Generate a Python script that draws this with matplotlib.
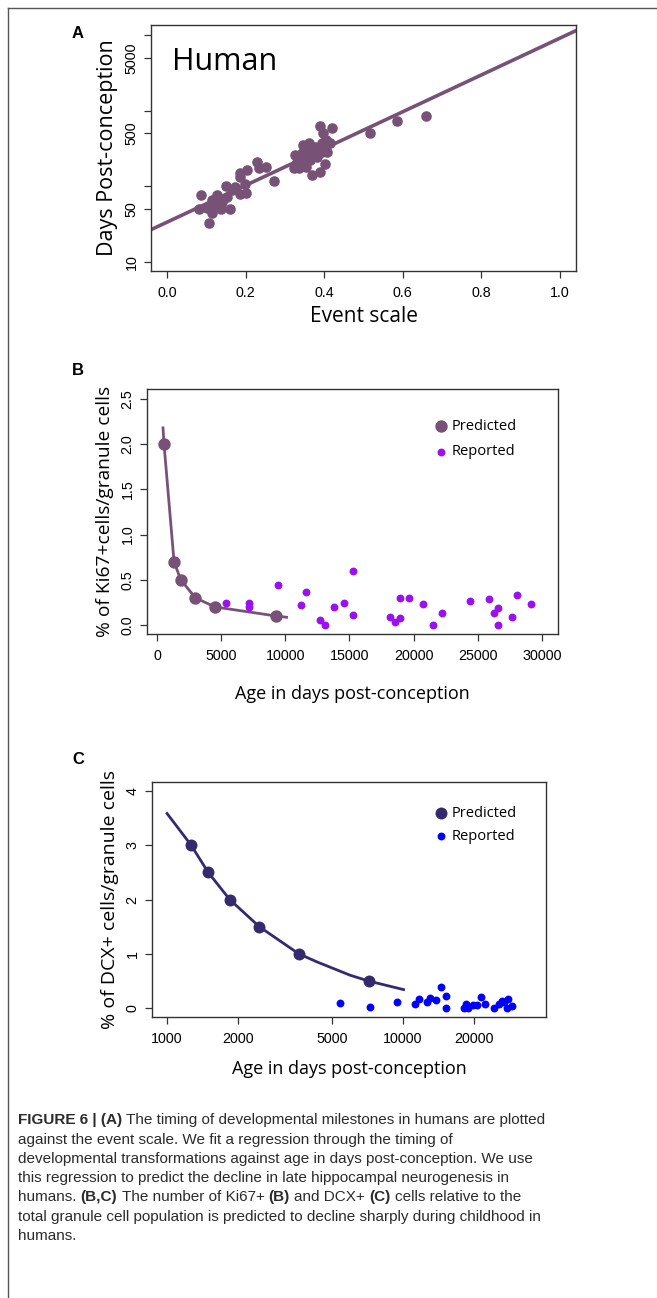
import matplotlib
matplotlib.use("Agg")
import matplotlib.pyplot as plt
from matplotlib.ticker import FixedLocator, NullLocator

# ---- panel A: developmental events vs event scale ----
event_scale = [0.081, 0.086, 0.106, 0.102, 0.114, 0.127, 0.136, 0.140, 0.150, 0.161,
               0.153, 0.165, 0.174, 0.186, 0.185, 0.186, 0.203, 0.199, 0.202, 0.229,
               0.234, 0.251, 0.271, 0.114, 0.120,
               0.326, 0.331, 0.335, 0.339, 0.346, 0.354, 0.358, 0.360, 0.352, 0.364,
               0.370, 0.377, 0.381, 0.388, 0.390, 0.394, 0.398, 0.403, 0.407, 0.414,
               0.419, 0.394, 0.381, 0.322, 0.343, 0.373, 0.405,
               0.517, 0.585, 0.658]
event_days = [50, 78, 33, 51, 45, 78, 50, 62, 101, 50,
              73, 89, 99, 79, 152, 134, 165, 107, 81, 212,
              173, 179, 119, 66, 56,
              261, 212, 173, 224, 354, 182, 288, 380, 248, 224,
              141, 336, 274, 631, 157, 372, 506, 198, 288, 372,
              589, 288, 248, 173, 274, 288, 412,
              506, 736, 841]
fit_x = [-0.04, 1.04]
fit_days = [26.9, 11400]
a_yticks = [10, 50, 100, 500, 1000, 5000, 10000]
a_yticklabels = ["10", "50", "", "500", "", "5000", ""]
a_xticks = [0.0, 0.2, 0.4, 0.6, 0.8, 1.0]

# ---- panel B: Ki67+ ----
ki_pred_age = [546, 1327, 1848, 2992, 4502, 9237]
ki_pred_pct = [2.0, 0.7, 0.5, 0.3, 0.2, 0.1]
ki_curve_age = [468, 546, 1327, 1848, 2992, 4502, 9237, 10096]
ki_curve_pct = [2.18, 2.0, 0.7, 0.5, 0.3, 0.2, 0.1, 0.085]
ki_rep_age = [5360, 7182, 7182, 9394, 11215, 11606, 12698, 13063, 13791, 14546,
              15249, 15249, 18163, 18553, 18917, 18917, 19646, 20739, 21494, 22196,
              24408, 25865, 26230, 26594, 26594, 27687, 28077, 29144]
ki_rep_pct = [0.247, 0.24, 0.2, 0.443, 0.222, 0.369, 0.055, 0.0, 0.2, 0.244,
              0.598, 0.111, 0.092, 0.037, 0.074, 0.295, 0.303, 0.229, 0.0, 0.137,
              0.266, 0.284, 0.137, 0.185, 0.0, 0.089, 0.329, 0.233]
b_xticks = [0, 5000, 10000, 15000, 20000, 25000, 30000]
b_yticks = [0.0, 0.5, 1.0, 1.5, 2.0, 2.5]

# ---- panel C: DCX+ ----
dcx_pred_age = [1264, 1493, 1843, 2461, 3623, 7178]
dcx_pred_pct = [3.0, 2.5, 2.0, 1.5, 1.0, 0.5]
dcx_curve_age = [1000, 1264, 1493, 1843, 2461, 3623, 4322, 5982, 7178, 10065]
dcx_curve_pct = [3.58, 3.0, 2.5, 2.0, 1.5, 1.0, 0.853, 0.607, 0.5, 0.344]
dcx_rep_age = [5390, 7224, 9432, 11206, 11652, 12637, 13054, 13796, 14534, 15262,
               15262, 18075, 18490, 18977, 19799, 20721, 21405, 22256, 24380, 25680,
               26273, 26878, 27586, 28036, 29154]
dcx_rep_pct = [0.104, 0.031, 0.11, 0.074, 0.166, 0.117, 0.196, 0.147, 0.393, 0.227,
               0.0, 0.0, 0.074, 0.012, 0.055, 0.055, 0.215, 0.08, 0.006, 0.074,
               0.129, 0.117, 0.006, 0.166, 0.043]
c_xticks = [1000, 2000, 5000, 10000, 20000]
c_yticks = [0, 1, 2, 3, 4]

caption = [
    [("FIGURE 6 | (A)", True), ("The timing of developmental milestones in humans are plotted", False)],
    [("against the event scale. We fit a regression through the timing of", False)],
    [("developmental transformations against age in days post-conception. We use", False)],
    [("this regression to predict the decline in late hippocampal neurogenesis in", False)],
    [("humans.", False), ("(B,C)", True), ("The number of Ki67+", False), ("(B)", True),
     ("and DCX+", False), ("(C)", True), ("cells relative to the", False)],
    [("total granule cell population is predicted to decline sharply during childhood in", False)],
    [("humans.", False)],
]

MAUVE = "#785276"
PURPLE = "#9b10ee"
NAVY = "#352a6e"
BLUE = "#0000ff"
LABEL_FONT = "Open Sans"
TICK_FONT = "Liberation Sans"

W, H = 657, 1298
fig = plt.figure(figsize=(W / 100, H / 100), dpi=100)


def px_axes(left, top, right, bottom):
    return fig.add_axes([left / W, 1 - bottom / H, (right - left) / W, (bottom - top) / H])


def style(ax, labelsize=10.3):
    for s in ax.spines.values():
        s.set_linewidth(1.0)
        s.set_color("#333333")
    ax.tick_params(direction="out", length=5, width=0.9, colors="#333333",
                   labelsize=labelsize, labelcolor="black", pad=6)
    ax.tick_params(axis="y", labelrotation=90, pad=4)
    for lab in ax.get_xticklabels() + ax.get_yticklabels():
        lab.set_fontfamily(TICK_FONT)
    for lab in ax.get_yticklabels():
        lab.set_verticalalignment("center")


# ---- A ----
axA = px_axes(151, 25, 576, 271)
axA.set_yscale("log")
axA.scatter(event_scale, event_days, s=58, color=MAUVE, linewidths=0, zorder=3)
axA.plot(fit_x, fit_days, color=MAUVE, lw=2.6, zorder=2)
axA.set_xlim(-0.041, 1.041)
axA.set_ylim(7.6, 13600)
axA.yaxis.set_major_locator(FixedLocator(a_yticks))
axA.yaxis.set_minor_locator(NullLocator())
axA.set_yticklabels(a_yticklabels)
axA.set_xticks(a_xticks)
axA.set_xticklabels([f"{v:.1f}" for v in a_xticks])
style(axA)
axA.set_xlabel("Event scale", fontsize=15, family=LABEL_FONT, labelpad=4)
axA.set_ylabel("Days Post-conception", fontsize=15.5, family=LABEL_FONT, labelpad=5)
axA.text(0.05, 0.85, "Human", transform=axA.transAxes, fontsize=22,
         family=LABEL_FONT, va="center", ha="left")

# ---- B ----
axB = px_axes(147, 389, 558, 634)
axB.plot(ki_curve_age, ki_curve_pct, color=MAUVE, lw=2.0, zorder=2)
hp = axB.scatter(ki_pred_age, ki_pred_pct, s=80, color=MAUVE, linewidths=0, zorder=3,
                 label="Predicted")
hr = axB.scatter(ki_rep_age, ki_rep_pct, s=32, color=PURPLE, linewidths=0, zorder=3,
                 label="Reported")
axB.set_xlim(-780, 31250)
axB.set_ylim(-0.1, 2.61)
axB.set_xticks(b_xticks)
axB.set_xticklabels([str(v) for v in b_xticks])
axB.set_yticks(b_yticks)
axB.set_yticklabels([f"{v:.1f}" for v in b_yticks])
style(axB)
axB.set_xlabel("Age in days post-conception", fontsize=13, family=LABEL_FONT, labelpad=16)
axB.set_ylabel("% of Ki67+cells/granule cells", fontsize=13.8, family=LABEL_FONT, labelpad=5)
axB.legend(handles=[hp, hr], loc="upper left", bbox_to_anchor=(425 / W, 1 - 412 / H),
           bbox_transform=fig.transFigure, frameon=False, handletextpad=0.15,
           labelspacing=0.7, borderpad=0, handlelength=1.2,
           prop={"family": LABEL_FONT, "size": 10.5})

# ---- C ----
axC = px_axes(152, 782, 546, 1017)
axC.set_xscale("log")
axC.plot(dcx_curve_age, dcx_curve_pct, color=NAVY, lw=2.0, zorder=2)
hp = axC.scatter(dcx_pred_age, dcx_pred_pct, s=74, color=NAVY, linewidths=0, zorder=3,
                 label="Predicted")
hr = axC.scatter(dcx_rep_age, dcx_rep_pct, s=32, color=BLUE, linewidths=0, zorder=3,
                 label="Reported")
axC.set_xlim(863, 40450)
axC.set_ylim(-0.16, 4.16)
axC.xaxis.set_major_locator(FixedLocator(c_xticks))
axC.xaxis.set_minor_locator(NullLocator())
axC.set_xticklabels([str(v) for v in c_xticks])
axC.set_yticks(c_yticks)
axC.set_yticklabels([str(v) for v in c_yticks])
style(axC)
axC.set_xlabel("Age in days post-conception", fontsize=13, family=LABEL_FONT, labelpad=10)
axC.set_ylabel("% of DCX+ cells/granule cells", fontsize=14, family=LABEL_FONT, labelpad=5)
axC.legend(handles=[hp, hr], loc="upper left", bbox_to_anchor=(425 / W, 1 - 799 / H),
           bbox_transform=fig.transFigure, frameon=False, handletextpad=0.15,
           labelspacing=0.55, borderpad=0, handlelength=1.2,
           prop={"family": LABEL_FONT, "size": 10.5})

# panel letters
for letter, y in [("A", 33), ("B", 370), ("C", 760)]:
    fig.text(78 / W, 1 - y / H, letter, fontsize=12, fontweight="bold",
             family=TICK_FONT, ha="center", va="center")

# frame lines
fig.add_artist(plt.Line2D([8 / W, 8 / W], [0, 1 - 8 / H], transform=fig.transFigure,
                          color="#555555", lw=1.0))
fig.add_artist(plt.Line2D([8 / W, 1], [1 - 8 / H, 1 - 8 / H], transform=fig.transFigure,
                          color="#555555", lw=1.0))

# caption, drawn run by run so bold parts can sit inline
renderer = fig.canvas.get_renderer()
cap_kw = dict(fontsize=11, family="Liberation Sans", color="#2b2b2b", va="center")
probe1 = fig.text(0, 0, "x x", **cap_kw)
probe2 = fig.text(0, 0, "xx", **cap_kw)
space_px = (probe1.get_window_extent(renderer).width
            - probe2.get_window_extent(renderer).width)
probe1.remove()
probe2.remove()
line_y = [1120, 1140, 1159, 1178, 1197, 1217, 1236]
for runs, yy in zip(caption, line_y):
    x = 18
    for txt, bold in runs:
        t = fig.text(x / W, 1 - yy / H, txt, fontweight="bold" if bold else "normal", **cap_kw)
        x += t.get_window_extent(renderer).width + space_px

fig.savefig("out.png", dpi=100)
